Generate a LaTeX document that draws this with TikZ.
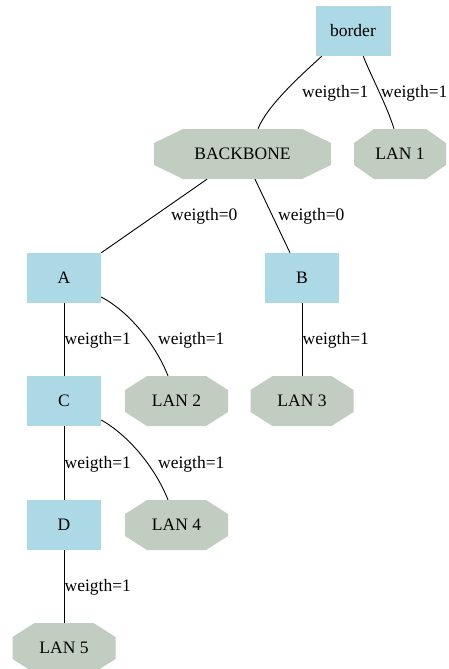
\documentclass[tikz,border=0pt]{standalone}
\usepackage{fontspec}
\setmainfont{Liberation Serif}
\definecolor{boxfill}{HTML}{ADD8E6}
\definecolor{lanfill}{HTML}{C1CDC1}
\tikzset{
  lbl/.style={font=\fontsize{17.5}{20}\selectfont},
  hostbox/.style={lbl, fill=boxfill, minimum width=74, minimum height=50, inner sep=0pt},
  lancut/.store in=\lancut, lancut=22pt,
  lan/.style={lbl, minimum width=#1, minimum height=50, inner sep=0pt,
    path picture={
      \fill[lanfill]
        ([xshift=\lancut]path picture bounding box.north west) --
        ([xshift=-\lancut]path picture bounding box.north east) --
        ([yshift=-14pt]path picture bounding box.north east) --
        ([yshift=14pt]path picture bounding box.south east) --
        ([xshift=-\lancut]path picture bounding box.south east) --
        ([xshift=\lancut]path picture bounding box.south west) --
        ([yshift=14pt]path picture bounding box.south west) --
        ([yshift=-14pt]path picture bounding box.north west) -- cycle;}},
  wlbl/.style={lbl, anchor=west, inner sep=0pt},
  edge/.style={draw=black, line width=0.9pt}
}
\begin{document}
\begin{tikzpicture}[x=1pt,y=-1pt]
\useasboundingbox (0,0) rectangle (449,669);
% nodes
\node[hostbox, minimum width=75] (border) at (353,31) {border};
\node[lan=177, lancut=29pt] (BB) at (242.5,154) {BACKBONE};
\node[lan=92, lancut=20pt] (LAN1) at (400,154) {LAN 1};
\node[hostbox] (A) at (64,278) {A};
\node[hostbox] (B) at (302,278) {B};
\node[hostbox] (C) at (64,401) {C};
\node[hostbox] (D) at (64,525) {D};
\node[lan=103] (LAN2) at (176.5,401) {LAN 2};
\node[lan=103] (LAN3) at (302,401) {LAN 3};
\node[lan=103] (LAN4) at (176.5,525) {LAN 4};
\node[lan=103] (LAN5) at (64,648) {LAN 5};
% edges
\draw[edge] ([xshift=6.5pt]border.south west) .. controls (300,76) and (267,106) .. ([xshift=15.5pt]BB.north);
\draw[edge] ([xshift=-27.5pt]border.south east) .. controls (372,78) and (387,106) .. ([xshift=-6pt]LAN1.north);
\draw[edge] ([xshift=-35.5pt]BB.south) -- (A.north east);
\draw[edge] ([xshift=12.5pt]BB.south) -- ([xshift=-12pt]B.north);
\draw[edge] (A.south) -- (C.north);
\draw[edge] ([yshift=-19pt]A.east) .. controls (128,311) and (155,343) .. ([xshift=-8.5pt]LAN2.north);
\draw[edge] (B.south) -- (LAN3.north);
\draw[edge] (C.south) -- (D.north);
\draw[edge] ([yshift=-19pt]C.east) .. controls (128,435) and (155,467) .. ([xshift=-8.5pt]LAN4.north);
\draw[edge] (D.south) -- (LAN5.north);
% labels
\node[wlbl] (l1) at (302,93) {weigth=1};
\node[wlbl] (l2) at (381,93) {weigth=1};
\node[wlbl] (l3) at (171,216) {weigth=0};
\node[wlbl] (l4) at (278,216) {weigth=0};
\node[wlbl] (l5) at (64.5,340) {weigth=1};
\node[wlbl] (l6) at (158,340) {weigth=1};
\node[wlbl] (l7) at (302.5,340) {weigth=1};
\node[wlbl] (l8) at (64.5,464) {weigth=1};
\node[wlbl] (l9) at (158,464) {weigth=1};
\node[wlbl] (l10) at (64.5,587) {weigth=1};
\end{tikzpicture}
\end{document}
